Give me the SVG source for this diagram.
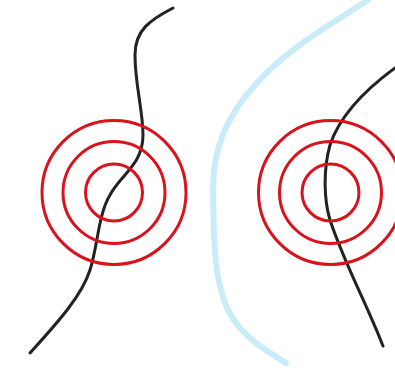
<svg xmlns="http://www.w3.org/2000/svg" width="395" height="379" viewBox="0 0 395 379">
<style>
.ring{fill:none;stroke:#D9121C;stroke-width:3}
.line{fill:none;stroke:#222;stroke-width:3;stroke-linecap:round}
.blue{fill:none;stroke:#C9EDF8;stroke-width:6;stroke-linecap:round}
</style>
<rect width="395" height="379" fill="#fff"/>
<g id="connectors">
<path class="blue" d="M368,0 C330,25 285,50 255,85 C225,118 213,150 213,190 C214,230 212,285 232,317 C245,338 265,350 286,363"/>
<path class="line" d="M173,8 C150,20 135,30 135,55 C135,85 143,110 143,135 C143,165 120,175 110,195 C98,215 98,245 90,270 C82,295 60,320 30,353"/>
<path class="line" d="M395,68 C365,90 340,115 330,145 C323,170 324,200 330,220 C345,265 365,300 383,346"/>
</g>
<g id="target-left">
<circle class="ring" cx="114" cy="192.5" r="28.5"/>
<circle class="ring" cx="114" cy="192.5" r="51"/>
<circle class="ring" cx="114" cy="192.5" r="72"/>
</g>
<g id="target-right">
<circle class="ring" cx="330.5" cy="192.5" r="28.5"/>
<circle class="ring" cx="330.5" cy="192.5" r="51"/>
<circle class="ring" cx="330.5" cy="192.5" r="72"/>
</g>
</svg>
